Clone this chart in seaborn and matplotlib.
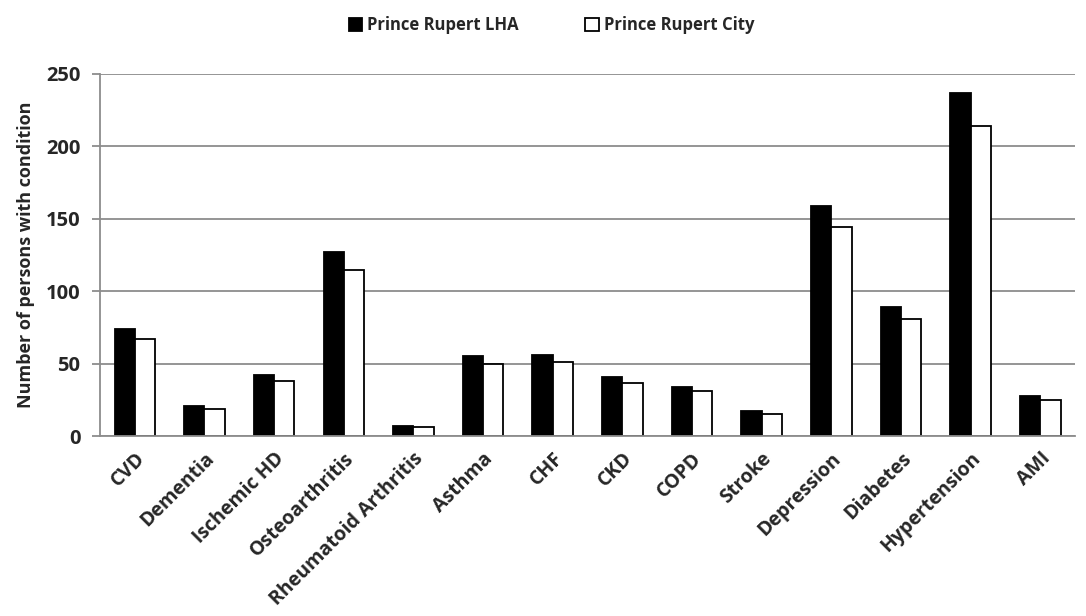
import numpy as np
import matplotlib
matplotlib.use("Agg")
import matplotlib.pyplot as plt
import seaborn as sns
import pandas as pd

# Data
conditions = ["CVD", "Dementia", "Ischemic HD", "Osteoarthritis", "Rheumatoid Arthritis",
              "Asthma", "CHF", "CKD", "COPD", "Stroke", "Depression", "Diabetes",
              "Hypertension", "AMI"]
lha_values = [74, 21, 42, 127, 7, 55, 56, 41, 34, 17, 159, 89, 237, 28]
city_values = [67, 19, 38, 115, 6.5, 50, 51, 37, 31, 15, 144, 81, 214, 25]
series_names = ["Prince Rupert LHA", "Prince Rupert City"]

df = pd.DataFrame({
    "condition": conditions * 2,
    "value": lha_values + city_values,
    "series": [series_names[0]] * len(conditions) + [series_names[1]] * len(conditions),
})

sns.set_style("white")
plt.rcParams["font.family"] = ["Open Sans", "DejaVu Sans"]
plt.rcParams["font.weight"] = "bold"

fig = plt.figure(figsize=(10.86, 6.16), dpi=100)
ax = fig.add_axes([0.092, 0.292, 0.898, 0.588])

sns.barplot(data=df, x="condition", y="value", hue="series",
            palette=["black", "white"], edgecolor="black", linewidth=1.3,
            width=0.58, saturation=1, ax=ax, legend=True)

# Axes styling
ax.set_ylim(0, 250)
ax.set_xlim(-0.5, len(conditions) - 0.5)
ax.set_yticks(range(0, 251, 50))
ax.yaxis.grid(True, color="#8c8c8c", linewidth=1.3)
ax.set_axisbelow(True)
for side in ["top", "right"]:
    ax.spines[side].set_visible(False)
for side in ["left", "bottom"]:
    ax.spines[side].set_color("#8c8c8c")
    ax.spines[side].set_linewidth(1.3)

ax.set_xlabel("")
ax.set_ylabel("Number of persons with condition", fontsize=13, fontweight="bold", labelpad=8)

# category ticks sit between the groups, like Excel
ax.set_xticks(np.arange(len(conditions)), labels=conditions)
ax.set_xticks(np.arange(-0.5, len(conditions)), minor=True)
ax.tick_params(axis="x", which="major", length=0, pad=9)
ax.tick_params(axis="x", which="minor", length=6, color="#8c8c8c", width=1.3, direction="out")
ax.tick_params(axis="y", length=6, color="#8c8c8c", width=1.3, direction="out", left=True, pad=8)
for lab in ax.get_xticklabels():
    lab.set_rotation(45)
    lab.set_ha("right")
    lab.set_rotation_mode("anchor")
    lab.set_fontsize(14)
    lab.set_fontweight("bold")
for lab in ax.get_yticklabels():
    lab.set_fontsize(14.5)
    lab.set_fontweight("bold")

# Legend on top
handles, labels = ax.get_legend_handles_labels()
ax.legend(handles, labels, loc="upper center", bbox_to_anchor=(0.463, 1.2), ncol=2,
          frameon=False, handlelength=0.8, handleheight=0.8,
          handletextpad=0.3, columnspacing=4.0,
          prop={"family": "Open Sans", "weight": "bold", "size": 12})

fig.savefig("out.png", dpi=100)
